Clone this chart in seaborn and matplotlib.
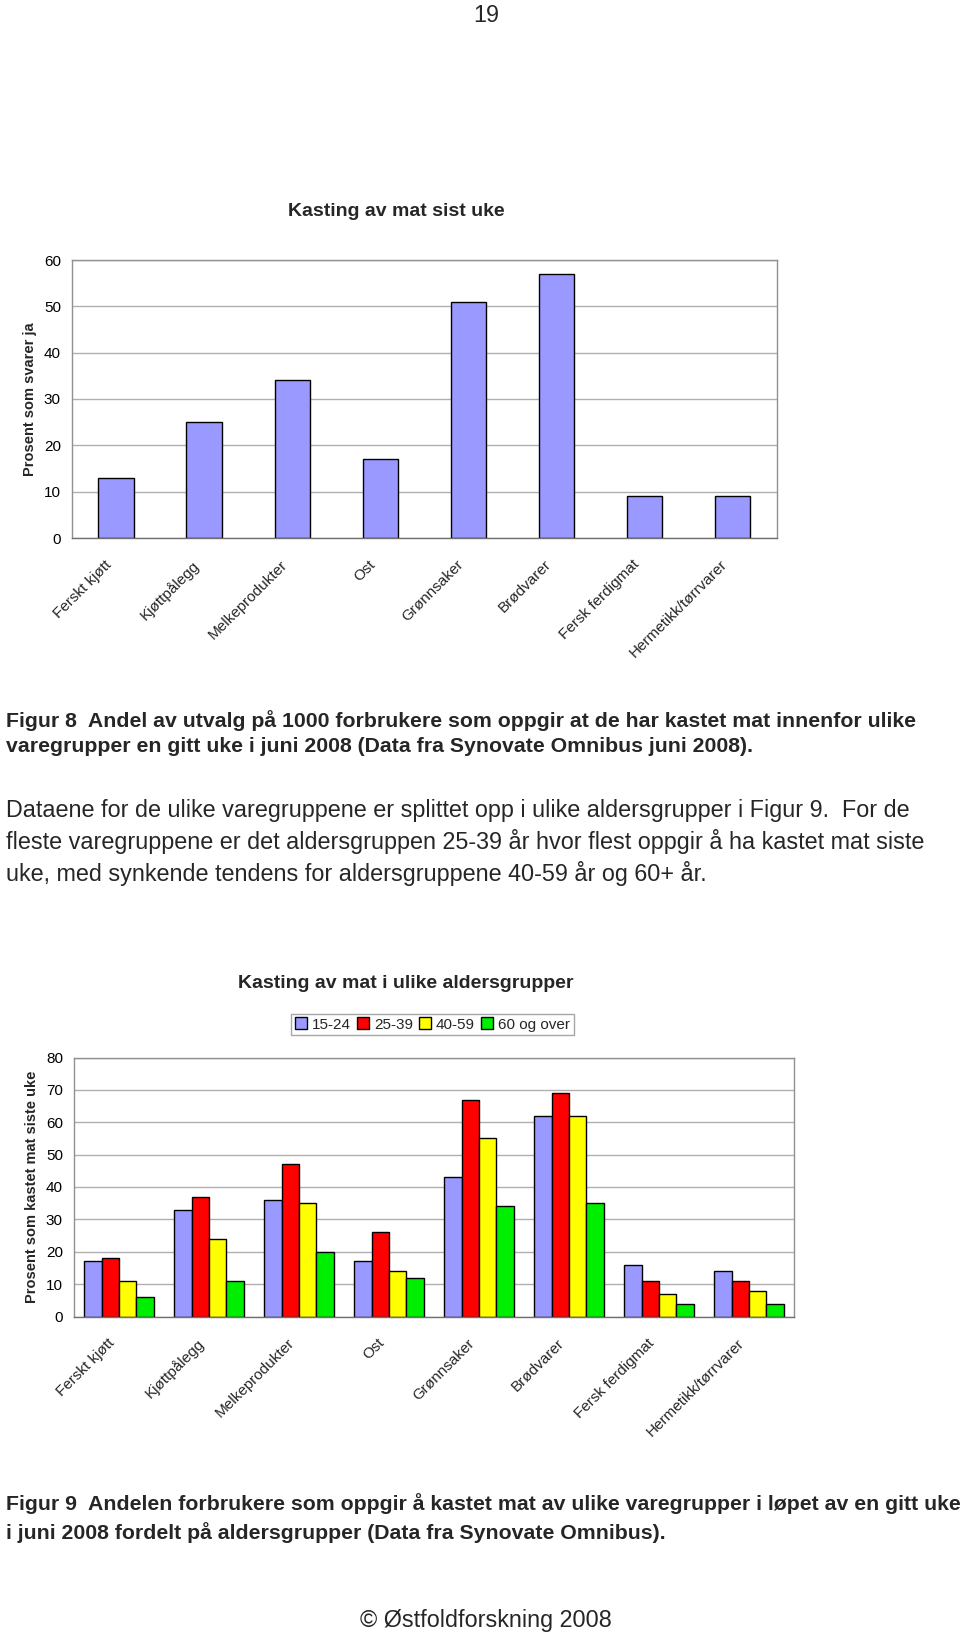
import matplotlib
matplotlib.use("Agg")
import matplotlib.pyplot as plt
import matplotlib.transforms as mtransforms
import seaborn as sns
import pandas as pd
import numpy as np

sns.set_theme(style="white")
plt.rcParams['font.family'] = ['Liberation Sans', 'DejaVu Sans']

# ---- data ----
categories = ["Ferskt kjøtt", "Kjøttpålegg", "Melkeprodukter", "Ost",
              "Grønnsaker", "Brødvarer", "Fersk ferdigmat", "Hermetikk/tørrvarer"]
share_yes = [13, 25, 34, 17, 51, 57, 9, 9]

age_groups = ["15-24", "25-39", "40-59", "60 og over"]
age_15_24 = [17, 33, 36, 17, 43, 62, 16, 14]
age_25_39 = [18, 37, 47, 26, 67, 69, 11, 11]
age_40_59 = [11, 24, 35, 14, 55, 62, 7, 8]
age_60_plus = [6, 11, 20, 12, 34, 35, 4, 4]
age_colors = ["#9999FF", "#FF0000", "#FFFF00", "#00EE00"]

W, H = 960, 1634
fig = plt.figure(figsize=(W / 100, H / 100), dpi=100)


def fx(px):
    return px / W


def fy(py):
    return 1 - py / H


def style_axes(ax, ymax):
    ax.set_ylim(0, ymax)
    ax.set_xlim(-0.5, len(categories) - 0.5)
    ax.set_yticks(np.arange(0, ymax + 1, 10))
    ax.yaxis.grid(True, color="#B0B0B0", linewidth=1.0)
    ax.set_axisbelow(True)
    for s in ax.spines.values():
        s.set_color("#909090")
        s.set_linewidth(1.0)
    ax.spines["bottom"].set_color("#707070")
    ax.tick_params(axis="y", length=0, pad=8, labelsize=11, labelcolor="black")
    ax.set_xticks(range(len(categories)))
    ax.set_xticklabels(categories, rotation=45, ha="right", rotation_mode="anchor",
                       fontsize=11)
    ax.tick_params(axis="x", which="major", length=0, pad=14)
    shift = mtransforms.ScaledTranslation(-12 / 100, 0, fig.dpi_scale_trans)
    for lab in ax.get_xticklabels():
        lab.set_transform(lab.get_transform() + shift)
    ax.set_xticks(np.arange(-0.5, len(categories), 1.0), minor=True)
    ax.tick_params(axis="x", which="minor", length=5, color="#707070", direction="out")
    ax.set_xlabel("")


# ---- chart 1 ----
ax1 = fig.add_axes([fx(72), fy(538), fx(776.5 - 72), (538 - 260) / H])
df1 = pd.DataFrame({"kategori": categories, "andel": share_yes})
sns.barplot(data=df1, x="kategori", y="andel", color="#9999FF", edgecolor="black",
            linewidth=1.0, width=0.4, saturation=1, ax=ax1)
style_axes(ax1, 60)
ax1.set_ylabel("Prosent som svarer ja", fontsize=10.5, fontweight="bold", labelpad=5)
fig.text(fx(396), fy(212), "Kasting av mat sist uke", ha="center", va="center",
         fontsize=14, fontweight="bold")

# ---- chart 2 ----
ax2 = fig.add_axes([fx(74), fy(1316.5), fx(794 - 74), (1316.5 - 1057.5) / H])
df2 = pd.DataFrame({
    "kategori": categories * 4,
    "gruppe": [g for g in age_groups for _ in categories],
    "andel": age_15_24 + age_25_39 + age_40_59 + age_60_plus,
})
sns.barplot(data=df2, x="kategori", y="andel", hue="gruppe", hue_order=age_groups,
            palette=age_colors, edgecolor="black", linewidth=1.0, width=0.77,
            saturation=1, ax=ax2)
style_axes(ax2, 80)
ax2.set_ylabel("Prosent som kastet mat siste uke", fontsize=10.5, fontweight="bold",
               labelpad=5)
fig.text(fx(406), fy(983), "Kasting av mat i ulike aldersgrupper", ha="center",
         va="center", fontsize=14, fontweight="bold")
leg = ax2.legend(loc="center", bbox_to_anchor=(fx(432.5), fy(1024.5)),
                 bbox_transform=fig.transFigure, ncol=4, frameon=True,
                 fontsize=11, handlelength=0.8, handleheight=0.8,
                 handletextpad=0.3, columnspacing=0.4, borderpad=0.25,
                 fancybox=False)
leg.get_frame().set_edgecolor("#909090")
leg.get_frame().set_linewidth(1.0)

# ---- page text ----
body = 16.8
cap = 15.3
fig.text(fx(486), fy(15), "19", ha="center", va="center", fontsize=body)
fig.text(fx(6), fy(721), "Figur 8  Andel av utvalg på 1000 forbrukere som oppgir at de har kastet mat innenfor ulike",
         ha="left", va="center", fontsize=cap, fontweight="bold")
fig.text(fx(6), fy(747), "varegrupper en gitt uke i juni 2008 (Data fra Synovate Omnibus juni 2008).",
         ha="left", va="center", fontsize=cap, fontweight="bold")
fig.text(fx(6), fy(810), "Dataene for de ulike varegruppene er splittet opp i ulike aldersgrupper i Figur 9.  For de",
         ha="left", va="center", fontsize=body)
fig.text(fx(6), fy(842), "fleste varegruppene er det aldersgruppen 25-39 år hvor flest oppgir å ha kastet mat siste",
         ha="left", va="center", fontsize=body)
fig.text(fx(6), fy(873), "uke, med synkende tendens for aldersgruppene 40-59 år og 60+ år.",
         ha="left", va="center", fontsize=body)
fig.text(fx(6), fy(1504), "Figur 9  Andelen forbrukere som oppgir å kastet mat av ulike varegrupper i løpet av en gitt uke",
         ha="left", va="center", fontsize=cap, fontweight="bold")
fig.text(fx(6), fy(1533), "i juni 2008 fordelt på aldersgrupper (Data fra Synovate Omnibus).",
         ha="left", va="center", fontsize=cap, fontweight="bold")
fig.text(fx(486), fy(1621), "© Østfoldforskning 2008", ha="center", va="center",
         fontsize=body)

fig.savefig("out.png", dpi=100)
